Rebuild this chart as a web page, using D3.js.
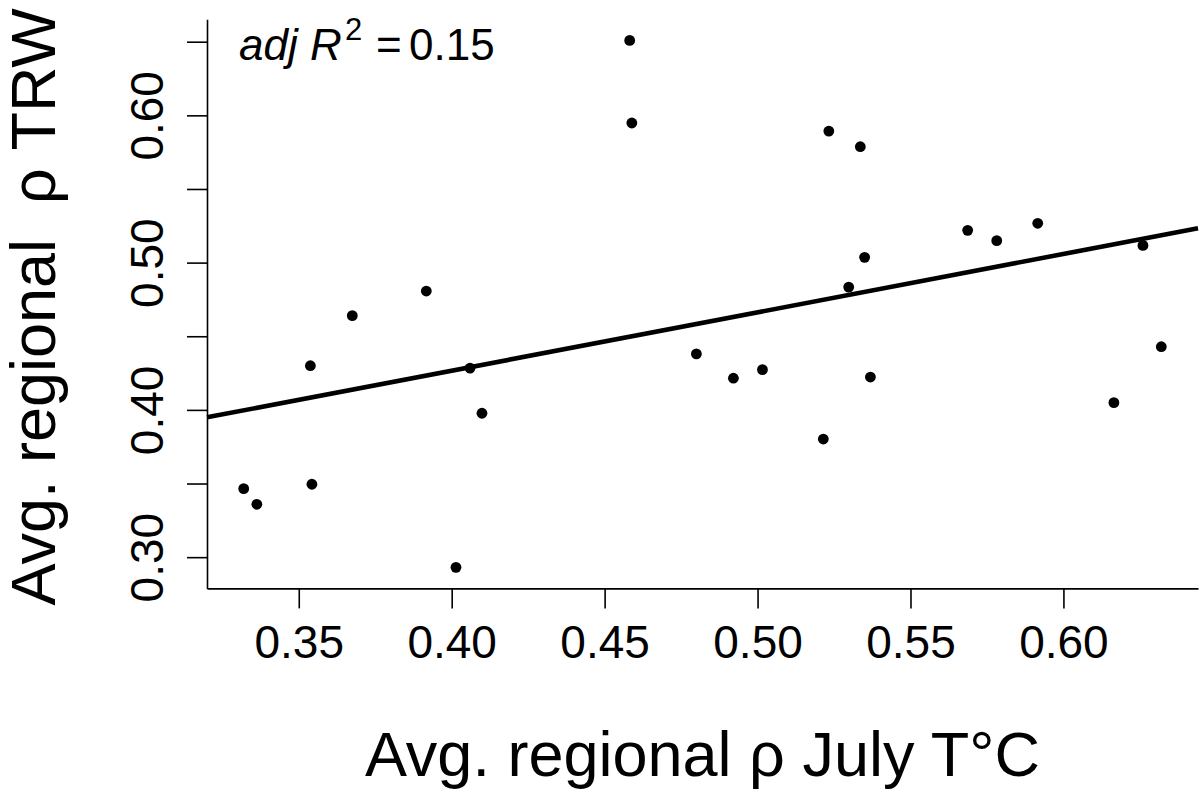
<!DOCTYPE html>
<html>
<head>
<meta charset="utf-8">
<script src="https://cdn.jsdelivr.net/npm/d3@7"></script>
<style>
  html, body { margin: 0; padding: 0; background: #fff; }
  svg { display: block; font-family: "Liberation Sans", Arial, sans-serif; }
</style>
</head>
<body>
<svg id="chart" width="1200" height="790"></svg>
<script>
// Avg. regional rho July T (x) vs avg. regional rho TRW (y), one point per region
const xVals = [0.3320, 0.3363, 0.3538, 0.3543, 0.3675, 0.3917, 0.4014, 0.4060, 0.4099,
               0.4582, 0.4589, 0.4800, 0.4921, 0.5016, 0.5215, 0.5233, 0.5298, 0.5336,
               0.5350, 0.5369, 0.5687, 0.5782, 0.5916, 0.6165, 0.6260, 0.6320];
const yVals = [0.3465, 0.3359, 0.4300, 0.3495, 0.4640, 0.4807, 0.2931, 0.4284, 0.3977,
               0.6509, 0.5948, 0.4380, 0.4215, 0.4273, 0.3802, 0.5893, 0.4834, 0.5787,
               0.5036, 0.4223, 0.5219, 0.5149, 0.5267, 0.4049, 0.5117, 0.4429];

const xTicks = [0.35, 0.40, 0.45, 0.50, 0.55, 0.60];
const yTicks = [0.30, 0.35, 0.40, 0.45, 0.50, 0.55, 0.60, 0.65];
const yLabelled = [0.30, 0.40, 0.50, 0.60];   // R drops the overlapping ones

const W = 1200, H = 790;
const margin = { left: 207, right: 2 };

// R style: data range padded by 4% on each side
function rExtent(vals) {
  const [a, b] = d3.extent(vals);
  const p = (b - a) * 0.04;
  return [a - p, b + p];
}

const svg = d3.select('#chart');

const x = d3.scaleLinear().domain(rExtent(xVals)).range([margin.left, W - margin.right]);
// plot region top/bottom
const y = d3.scaleLinear().domain(rExtent(yVals)).range([588.4, 19.3]);

// least squares fit
const mx = d3.mean(xVals), my = d3.mean(yVals);
const sxy = d3.sum(xVals, (v, i) => (v - mx) * (yVals[i] - my));
const sxx = d3.sum(xVals, v => (v - mx) * (v - mx));
const slope = sxy / sxx;
const intercept = my - slope * mx;

// x axis
const gx = svg.append('g')
  .attr('transform', `translate(0,${y.range()[0]})`)
  .call(d3.axisBottom(x).tickValues(xTicks).tickSizeInner(20).tickSizeOuter(0)
    .tickPadding(16.5).tickFormat(d3.format('.2f')));

// y axis
const gy = svg.append('g')
  .attr('transform', `translate(${x.range()[0]},0)`)
  .call(d3.axisLeft(y).tickValues(yTicks).tickSizeInner(20).tickSizeOuter(0)
    .tickFormat(d => yLabelled.some(v => Math.abs(v - d) < 1e-9) ? d3.format('.2f')(d) : ''));

[gx, gy].forEach(g => {
  g.selectAll('path.domain').attr('stroke', '#000').attr('stroke-width', 1.6);
  g.selectAll('.tick line').attr('stroke', '#000').attr('stroke-width', 1.6);
  g.selectAll('.tick text')
    .attr('fill', '#000')
    .style('font-family', '"Liberation Sans", Arial, sans-serif')
    .style('font-size', '46px');
});

gy.selectAll('.tick text')
  .attr('transform', 'rotate(-90)')
  .attr('x', 0).attr('y', -44).attr('dy', 0)
  .attr('text-anchor', 'middle');

// regression line
svg.append('line')
  .attr('x1', x(x.domain()[0])).attr('y1', y(intercept + slope * x.domain()[0]))
  .attr('x2', x(x.domain()[1])).attr('y2', y(intercept + slope * x.domain()[1]))
  .attr('stroke', '#000').attr('stroke-width', 4.6);

// points
svg.append('g').selectAll('circle')
  .data(xVals.map((v, i) => [v, yVals[i]]))
  .join('circle')
  .attr('cx', d => x(d[0]))
  .attr('cy', d => y(d[1]))
  .attr('r', 5.4)
  .attr('fill', '#000');

// annotation
const ann = svg.append('text')
  .attr('x', 239).attr('y', 60)
  .attr('fill', '#000')
  .style('font-size', '44px');
ann.append('tspan').style('font-style', 'italic').text('adj R');
ann.append('tspan').attr('x', 345).attr('dy', -20).style('font-size', '31px').text('2');
ann.append('tspan').attr('x', 376).attr('dy', 20).text('=');
ann.append('tspan').attr('x', 409).text('0.15');

// axis titles
svg.append('text')
  .attr('x', (x.range()[0] + x.range()[1]) / 2).attr('y', 776)
  .attr('text-anchor', 'middle')
  .attr('fill', '#000')
  .style('font-size', '63px')
  .text('Avg. regional \u03C1 July T\u00B0C');

svg.append('text')
  .attr('transform', `translate(55,${(y.range()[0] + y.range()[1]) / 2 + 3}) rotate(-90)`)
  .attr('text-anchor', 'middle')
  .attr('fill', '#000')
  .style('font-size', '63px')
  .style('white-space', 'pre')
  .text('Avg. regional  \u03C1 TRW');
</script>
</body>
</html>
